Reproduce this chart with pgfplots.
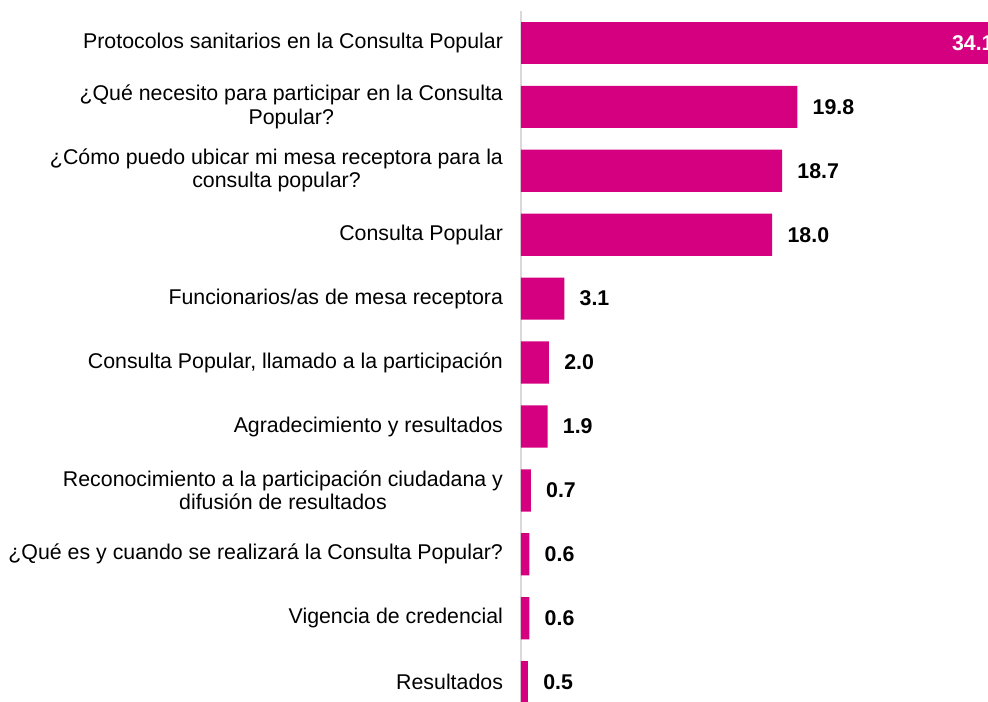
\documentclass[border=0pt]{standalone}
\usepackage{pgfplots}
\pgfplotsset{compat=1.18}
\usepackage{fontspec}
\setmainfont{Liberation Sans}
\definecolor{barmag}{HTML}{D5007F}
\definecolor{axgray}{HTML}{D9D9D9}
\begin{document}
\begin{tikzpicture}[x=1pt,y=1pt]
\begin{axis}[
  name=ax,
  scale only axis,
  width=366.4pt, height=518.25pt,
  xbar, bar width=0.66, bar shift=0pt,
  xmin=0, xmax=35,
  ymin=-0.5, ymax=10.31,
  y dir=reverse,
  hide x axis,
  axis y line*=left,
  y axis line style={axgray, line width=1.2pt},
  ytick={0,...,10},
  major tick length=0pt,
  yticklabels={
    Protocolos sanitarios en la Consulta Popular,
    {¿Qué necesito para participar en la Consulta\\Popular?},
    {¿Cómo puedo ubicar mi mesa receptora para la\\consulta popular?},
    Consulta Popular,
    Funcionarios/as de mesa receptora,
    {Consulta Popular, llamado a la participación},
    Agradecimiento y resultados,
    {Reconocimiento a la participación ciudadana y\\difusión de resultados},
    ¿Qué es y cuando se realizará la Consulta Popular?,
    Vigencia de credencial,
    Resultados},
  yticklabel style={align=center, font=\fontsize{16}{17.3}\selectfont, xshift=-10pt},
  point meta=x,
  /pgf/number format/assume math mode=true,
  nodes near coords={\pgfmathprintnumber[fixed,precision=1,zerofill,assume math mode=true]{\pgfplotspointmeta}},
  clip=false,
]
\addplot[fill=barmag, draw=none,
  every node near coord/.style={font=\fontsize{16}{18}\selectfont\bfseries, text=white, anchor=east, xshift=1pt}] coordinates {(34.1,0)};
\addplot[fill=barmag, draw=none,
  every node near coord/.style={font=\fontsize{16}{18}\selectfont\bfseries, text=black, anchor=west, xshift=8pt}] coordinates {
  (19.8,1) (18.7,2) (18.0,3) (3.1,4) (2.0,5) (1.9,6) (0.7,7) (0.6,8) (0.6,9) (0.5,10)};
\end{axis}
\pgfresetboundingbox
\path[use as bounding box] ([xshift=-390.75pt]ax.south west) rectangle ([xshift=350.25pt,yshift=8.25pt]ax.north west);
\end{tikzpicture}
\end{document}
